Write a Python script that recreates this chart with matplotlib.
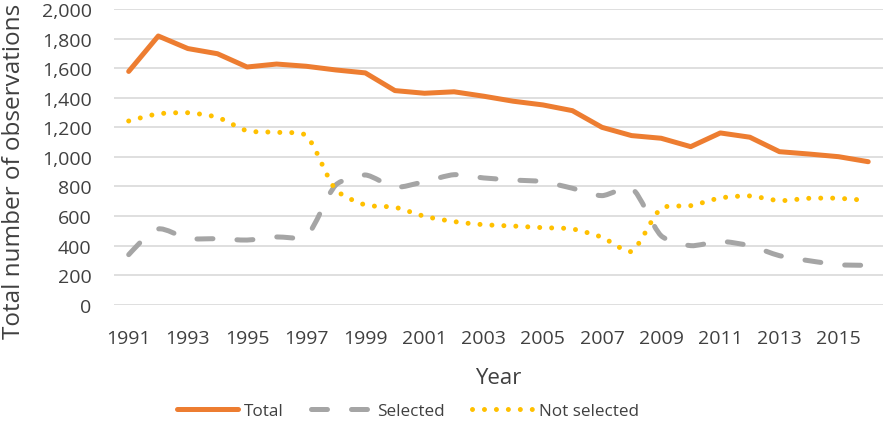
import numpy as np
import matplotlib
matplotlib.use("Agg")
import matplotlib.pyplot as plt
from matplotlib.path import Path
from matplotlib.patches import PathPatch
from matplotlib.lines import Line2D

plt.rcParams['font.family'] = ['Open Sans', 'DejaVu Sans']
plt.rcParams['lines.scale_dashes'] = False

years = list(range(1991, 2017))
total = [1580, 1820, 1735, 1700, 1610, 1630, 1615, 1590, 1570, 1450,
         1432, 1442, 1412, 1378, 1353, 1314, 1201, 1145, 1127, 1070,
         1163, 1134, 1036, 1020, 1002, 968]
selected = [338, 512, 448, 446, 437, 458, 462, 810, 878, 795,
            833, 880, 858, 844, 833, 788, 738, 790, 466, 399,
            428, 398, 331, 297, 270, 266]
not_selected = [1244, 1292, 1300, 1269, 1178, 1167, 1145, 778, 675, 659,
                598, 562, 541, 532, 521, 512, 456, 361, 652, 670,
                722, 736, 704, 720, 720, 704]
xtick_labels = [str(y) for y in range(1991, 2016, 2)]

ORANGE = '#ED7D31'
GRAY = '#A5A5A5'
GOLD = '#FFC000'
TEXT = '#404040'
LW = 3.6


def smooth_path(ax, xs, ys, f=0.24):
    """Bezier curve through the points; control arms scaled by the
    on-screen lengths of the neighbouring segments."""
    pts_data = np.column_stack([xs, ys]).astype(float)
    pts_px = ax.transData.transform(pts_data)
    n = len(pts_px)
    before = pts_px.copy()
    after = pts_px.copy()
    for i in range(1, n - 1):
        p = pts_px[i]
        d0 = np.hypot(*(p - pts_px[i - 1]))
        d1 = np.hypot(*(pts_px[i + 1] - p))
        tan = pts_px[i + 1] - pts_px[i - 1]
        before[i] = p - f * d0 / (d0 + d1) * tan
        after[i] = p + f * d1 / (d0 + d1) * tan
    # end points: aim toward the neighbouring control point
    after[0] = pts_px[0] + (before[1] - pts_px[0]) * 0.5
    before[-1] = pts_px[-1] + (after[-2] - pts_px[-1]) * 0.5
    inv = ax.transData.inverted()
    verts = [pts_px[0]]
    codes = [Path.MOVETO]
    for i in range(n - 1):
        verts += [after[i], before[i + 1], pts_px[i + 1]]
        codes += [Path.CURVE4] * 3
    return Path(inv.transform(np.array(verts)), codes)


fig = plt.figure(figsize=(8.83, 4.27), dpi=100)
ax = fig.add_axes([0.129, 0.2845, 0.871, 0.691])

ax.set_xlim(years[0] - 0.5, years[-1] + 0.5)
ax.set_ylim(0, 2000)
ax.set_yticks(range(0, 2001, 200))
ax.set_yticklabels([f"{v:,}" for v in range(0, 2001, 200)])
ax.set_xticks(range(1991, 2016, 2))
ax.set_xticklabels(xtick_labels)
ax.grid(axis='y', color='#D9D9D9', linewidth=1.2)
ax.set_axisbelow(True)
for s in ax.spines.values():
    s.set_visible(False)
ax.tick_params(length=0, labelsize=14, colors=TEXT)
ax.tick_params(axis='x', pad=17.5)
ax.tick_params(axis='y', pad=16)

dash_sel = (0, (11.5, 17.3))
dot_ns = (0, (0.01, 8.6))

# Total: straight segments
ax.plot(years, total, color=ORANGE, linewidth=LW, solid_joinstyle='round',
        solid_capstyle='round', zorder=3)

# Selected and Not selected: smoothed curves
for ys, color, ls in [(selected, GRAY, dash_sel), (not_selected, GOLD, dot_ns)]:
    patch = PathPatch(smooth_path(ax, years, ys), facecolor='none', edgecolor=color,
                      linewidth=LW, linestyle=ls, capstyle='round',
                      joinstyle='round', zorder=3)
    ax.add_patch(patch)

ax.set_ylabel('Total number of observations', fontsize=17.5, color=TEXT)
ax.yaxis.set_label_coords(-0.114, 0.456)
ax.set_xlabel('Year', fontsize=16, color=TEXT)
ax.xaxis.set_label_coords(0.5, -0.212)

handles = [
    Line2D([], [], color=ORANGE, linewidth=LW, solid_capstyle='round'),
    Line2D([], [], color=GRAY, linewidth=LW, linestyle=dash_sel, dash_capstyle='round'),
    Line2D([], [], color=GOLD, linewidth=LW, linestyle=dot_ns, dash_capstyle='round'),
]
fig.legend(handles, ['Total', 'Selected', 'Not selected'], loc='center',
           bbox_to_anchor=(0.462, 0.035), ncol=3, frameon=False, fontsize=12.3,
           handlelength=3.6, columnspacing=1.6, handletextpad=0.3,
           labelcolor=TEXT)

fig.savefig('out.png', dpi=100)
